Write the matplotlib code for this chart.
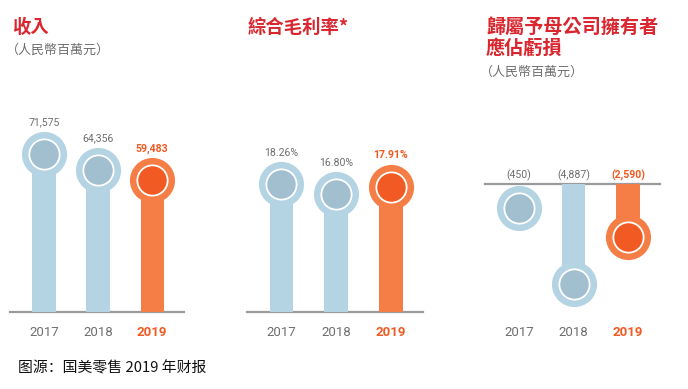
import matplotlib
matplotlib.use("Agg")
import matplotlib.pyplot as plt
import matplotlib.transforms as mtransforms

# ---------------- data ----------------
years = ["2017", "2018", "2019"]
revenue = [71575, 64356, 59483]
revenue_labels = ["71,575", "64,356", "59,483"]
margin = [18.26, 16.80, 17.91]
margin_labels = ["18.26%", "16.80%", "17.91%"]
loss = [-450, -4887, -2590]
loss_labels = ["(450)", "(4,887)", "(2,590)"]

titles = ["收入", "綜合毛利率*", "歸屬予母公司擁有者", "應佔虧損"]
unit_label = "（人民幣百萬元）"
source = "图源：国美零售 2019 年财报"

# ---------------- style ----------------
W, H = 688, 389
BLUE = "#b4d3e3"
BLUE_IN = "#a1bfcf"
ORANGE = "#f47e46"
ORANGE_IN = "#f15a22"
RED = "#d9262f"
GREY_TXT = "#6e6e6e"
BASE = "#9a9a9a"

fig = plt.figure(figsize=(W / 100, H / 100), dpi=100)
fig.patch.set_facecolor("white")

TITLE_FONT = ["Noto Sans CJK TC", "DejaVu Sans"]
NUM_FONT = ["Roboto", "DejaVu Sans"]


def px_axes(x0, x1, ytop, ybot):
    return fig.add_axes([x0 / W, 1 - ybot / H, (x1 - x0) / W, (ybot - ytop) / H])


def panel(ax, values, labels, ylim, label_mode, min_px=0):
    ax.set_xlim(-0.63, 2.59)
    ax.set_ylim(*ylim)
    ax.axis("off")
    ax_h_px = ax.get_position().height * H
    upp = (ylim[1] - ylim[0]) / ax_h_px  # data units per pixel
    xs = list(range(len(values)))
    bar_cols = [BLUE, BLUE, ORANGE]
    in_cols = [BLUE_IN, BLUE_IN, ORANGE_IN]
    bars = ax.bar(xs, values, width=0.43, color=bar_cols, zorder=1)
    ax.axhline(0, color=BASE, lw=1.6, zorder=0.5, clip_on=False)
    for i, v in enumerate(values):
        sgn = 1 if v >= 0 else -1
        off = min_px * upp
        my = sgn * max(abs(v), off)
        if abs(v) < off:
            # stem shorter than the bubble offset: hidden, as in the source
            bars[i].set_visible(False)
        ax.plot(i, my, "o", ms=32.5, mfc=bar_cols[i], mec="none", zorder=2, clip_on=False)
        ax.plot(i, my, "o", ms=21.8, mfc=in_cols[i], mec="white", mew=1.3, zorder=3, clip_on=False)
        last = i == len(values) - 1
        col = ORANGE_IN if last else GREY_TXT
        wt = "bold" if last else "normal"
        if label_mode == "above":
            ax.annotate(labels[i], (i, my), xytext=(0, 22.5), textcoords="offset points",
                        ha="center", va="center", fontsize=7.6, color=col, fontweight=wt,
                        family=NUM_FONT, annotation_clip=False)
        else:
            ax.annotate(labels[i], (i, 0), xytext=(0, 6.2), textcoords="offset points",
                        ha="center", va="center", fontsize=7.6, color=col, fontweight=wt,
                        family=NUM_FONT, annotation_clip=False)
    tr = mtransforms.blended_transform_factory(ax.transData, fig.transFigure)
    for i, y in enumerate(years):
        last = i == len(years) - 1
        ax.text(i, 1 - 332 / H, y, transform=tr, ha="center", va="center",
                fontsize=9.5, color=ORANGE_IN if last else GREY_TXT,
                fontweight="bold" if last else "normal", family=NUM_FONT)


ax1 = px_axes(10, 184, 100, 312)
panel(ax1, revenue, revenue_labels, (0, 212 * 452), "above")

ax2 = px_axes(247, 423, 100, 312)
panel(ax2, margin, margin_labels, (0, 212 / 7.0), "above")

ax3 = px_axes(485, 660, 184, 320)
panel(ax3, loss, loss_labels, (-136 * 49.0, 0), "baseline", min_px=24.3)

# ---------------- titles ----------------
TW = "bold"
fig.text(12 / W, 1 - 27 / H, titles[0], fontsize=13.2, color=RED, fontweight=TW,
         family=TITLE_FONT, ha="left", va="center")
fig.text(6 / W, 1 - 50 / H, unit_label, fontsize=9.4, color=GREY_TXT,
         family=TITLE_FONT, ha="left", va="center")
fig.text(248 / W, 1 - 27 / H, titles[1], fontsize=13.2, color=RED, fontweight=TW,
         family=TITLE_FONT, ha="left", va="center")
fig.text(486 / W, 1 - 27 / H, titles[2], fontsize=13.8, color=RED, fontweight=TW,
         family=TITLE_FONT, ha="left", va="center")
fig.text(486 / W, 1 - 48 / H, titles[3], fontsize=13.8, color=RED, fontweight=TW,
         family=TITLE_FONT, ha="left", va="center")
fig.text(480 / W, 1 - 72 / H, unit_label, fontsize=9.4, color=GREY_TXT,
         family=TITLE_FONT, ha="left", va="center")

fig.text(18 / W, 1 - 368 / H, source, fontsize=10.7, color="#111111",
         family=["Noto Sans CJK SC", "DejaVu Sans"], ha="left", va="center")

fig.savefig("out.png", dpi=100, facecolor="white")
